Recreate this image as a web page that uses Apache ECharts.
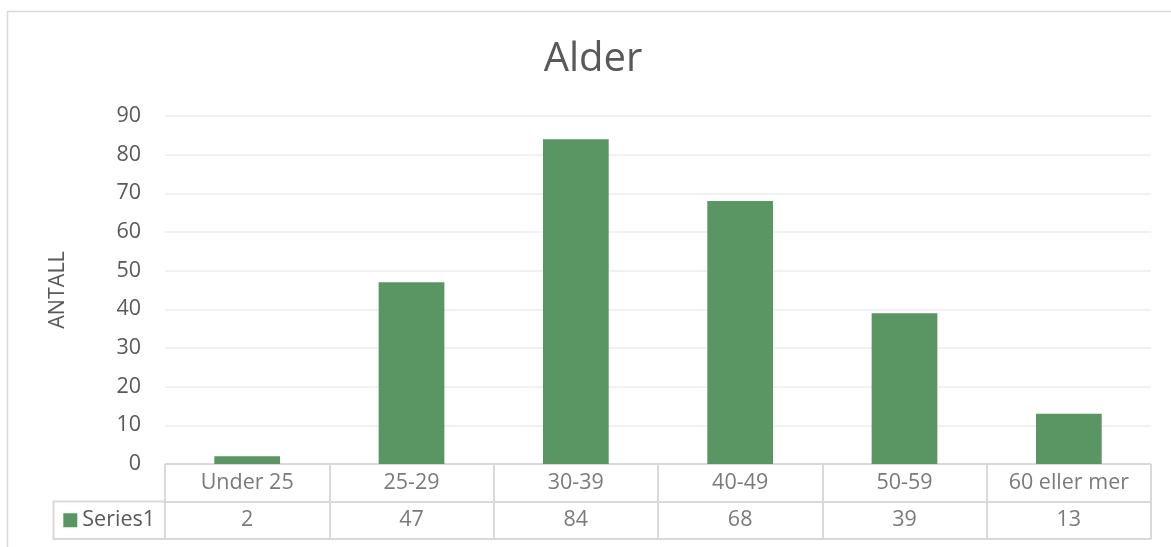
<!DOCTYPE html>
<html>
<head>
<meta charset="utf-8">
<title>Alder</title>
<script src="https://cdn.jsdelivr.net/npm/echarts@6/dist/echarts.min.js"></script>
<style>
  html, body { margin: 0; padding: 0; background: #ffffff; }
  #chart { width: 1171px; height: 547px; }
</style>
</head>
<body>
<div id="chart"></div>
<script>
// Age groups and respondent counts
const categories = ['Under 25', '25-29', '30-39', '40-49', '50-59', '60 eller mer'];
const seriesName = 'Series1';
const counts = [2, 47, 84, 68, 39, 13];
const yTicks = { min: 0, max: 90, interval: 10 };

const FONT = '"Open Sans", "Liberation Sans", sans-serif';
const TEXT = '#595959';
const BAR = '#5a9663';
const LINE = '#d9d9d9';
const FS = 21.5;

// Rows of the data table under the plot
const headerRow = categories.map(c => ({ value: [c, 'header'], label: { formatter: c } }));
const valueRow = categories.map((c, i) => ({ value: [c, seriesName], label: { formatter: String(counts[i]) } }));

const chart = echarts.init(document.getElementById('chart'), null, { renderer: 'canvas' });

chart.setOption({
  animation: false,
  backgroundColor: '#ffffff',
  textStyle: { fontFamily: FONT },
  title: {
    text: 'Alder',
    left: 588,
    textAlign: 'center',
    top: 35,
    textStyle: { fontFamily: FONT, fontSize: 40, fontWeight: 'normal', color: TEXT }
  },
  grid: [
    { left: 165, right: 20, top: 116, bottom: 83 },
    { left: 165, right: 20, top: 464, height: 75 }
  ],
  xAxis: [
    {
      gridIndex: 0,
      type: 'category',
      data: categories,
      axisLine: { show: false },
      axisTick: { show: false },
      axisLabel: { show: false }
    },
    {
      gridIndex: 1,
      type: 'category',
      data: categories,
      axisLine: { show: false },
      axisTick: { show: false },
      axisLabel: { show: false },
      splitLine: { show: true, lineStyle: { color: LINE, width: 2 } }
    }
  ],
  yAxis: [
    {
      gridIndex: 0,
      type: 'value',
      min: yTicks.min,
      max: yTicks.max,
      interval: yTicks.interval,
      name: 'ANTALL',
      nameLocation: 'middle',
      nameRotate: 90,
      nameGap: 96,
      nameTextStyle: { fontFamily: FONT, fontSize: FS, color: TEXT },
      axisLine: { show: false },
      axisTick: { show: false },
      axisLabel: { margin: 24, fontFamily: FONT, fontSize: FS, color: TEXT },
      splitLine: { lineStyle: { color: '#ededed', width: 1.5 } }
    },
    {
      gridIndex: 1,
      type: 'category',
      data: [seriesName, 'header'],
      axisLine: { show: false },
      axisTick: { show: false },
      splitLine: { show: true, lineStyle: { color: LINE, width: 2 } },
      axisLabel: {
        margin: 10,
        formatter: v => (v === seriesName ? '{sq|}{t|' + v + '}' : ''),
        rich: {
          sq: { width: 14, height: 14, backgroundColor: BAR },
          t: { padding: [0, 0, 0, 5], fontFamily: FONT, fontSize: FS, color: TEXT }
        }
      }
    }
  ],
  series: [
    {
      name: seriesName,
      type: 'bar',
      xAxisIndex: 0,
      yAxisIndex: 0,
      data: counts,
      barWidth: '40%',
      itemStyle: { color: BAR }
    },
    {
      type: 'scatter',
      xAxisIndex: 1,
      yAxisIndex: 1,
      symbolSize: 0,
      silent: true,
      data: headerRow.concat(valueRow),
      label: {
        show: true,
        position: 'inside',
        fontFamily: FONT,
        fontSize: FS,
        color: TEXT
      }
    }
  ],
  graphic: [
    {
      // chart frame
      type: 'rect',
      shape: { x: 7.5, y: 11.5, width: 1300, height: 700 },
      style: { fill: 'none', stroke: LINE, lineWidth: 1.5 },
      silent: true
    },
    {
      // legend key cell of the data table
      type: 'polyline',
      shape: { points: [[165, 501.5], [53.5, 501.5], [53.5, 539], [165, 539]] },
      style: { fill: 'none', stroke: LINE, lineWidth: 2 },
      silent: true
    }
  ]
});
</script>
</body>
</html>
